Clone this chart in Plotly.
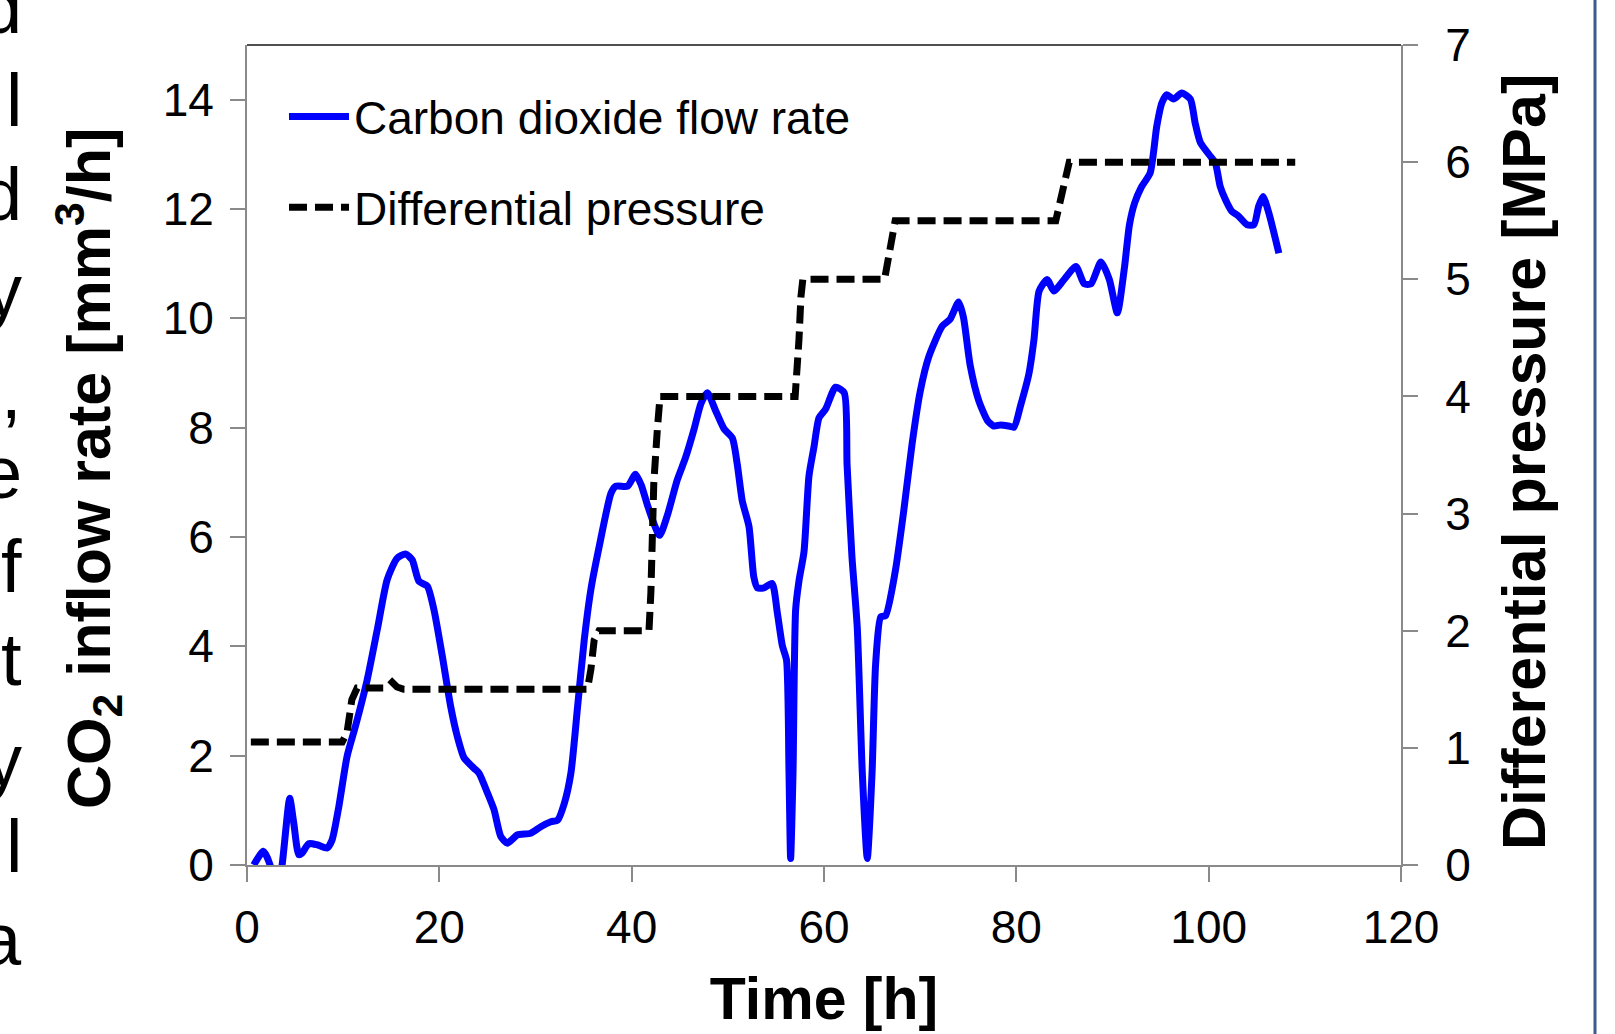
import plotly.graph_objects as go

# ---------------- data ----------------
flow_time = [0.7, 1.7, 2.4, 3.0, 3.65, 4.44, 4.86, 5.38, 5.73, 6.42, 7.29, 8.33, 8.85, 9.55,
             10.41, 11.28, 12.5, 13.54, 14.58, 15.6, 16.49, 17.18, 17.88, 18.75, 19.44, 20.31,
             21.18, 21.87, 22.57, 23.6, 24.13, 25.0, 25.69, 26.39, 27.08, 28.1, 29.5, 30.55,
             31.6, 32.3, 33.0, 33.68, 34.38, 35.07, 35.76, 36.63, 37.85, 38.36, 39.58, 40.4,
             41.0, 41.7, 42.9, 43.7, 44.75, 45.6, 46.5, 47.2, 47.87, 48.73, 49.6, 50.47, 50.99,
             51.5, 52.2, 52.7, 53.07, 53.76, 54.6, 55.15, 55.67, 56.1, 56.36, 56.53, 56.78,
             57.05, 57.4, 57.92, 58.44, 58.96, 59.48, 60.17, 61.2, 62.1, 62.4, 62.9, 63.46,
             63.98, 64.5, 65.0, 65.37, 65.9, 66.4, 67.4, 68.3, 69.15, 70.0, 70.9, 72.3, 73.1,
             74.0, 74.5, 75.2, 76.1, 77.0, 77.67, 78.36, 79.2, 79.76, 80.45, 81.3, 81.84, 82.37,
             83.2, 83.9, 84.97, 86.2, 87.06, 87.76, 88.8, 89.67, 90.5, 91.23, 91.76, 92.3, 93.0,
             93.92, 94.6, 95.13, 95.65, 96.35, 97.2, 98.1, 98.6, 99.15, 100.2, 100.7, 101.2,
             101.75, 102.4, 103.1, 104.0, 104.7, 105.2, 105.65, 106.25, 107.3]
flow_rate = [0.0, 0.25, 0.0, -0.6, 0.0, 1.22, 0.77, 0.19, 0.22, 0.39, 0.37, 0.31, 0.46, 1.07,
             1.99, 2.54, 3.39, 4.30, 5.22, 5.61, 5.69, 5.58, 5.19, 5.10, 4.67, 3.82,
             2.90, 2.35, 1.96, 1.77, 1.68, 1.32, 1.01, 0.52, 0.40, 0.55, 0.58, 0.70,
             0.79, 0.82, 1.13, 1.68, 2.90, 4.12, 5.04, 5.83, 6.80, 6.93, 6.93, 7.15,
             6.95, 6.55, 6.03, 6.39, 7.05, 7.45, 7.98, 8.44, 8.64, 8.31, 7.98, 7.81, 7.32,
             6.66, 6.19, 5.27, 5.07, 5.07, 5.15, 4.61, 4.01, 3.75, 1.70, 0.12, 1.70,
             4.67, 5.20, 5.73, 7.12, 7.65, 8.18, 8.34, 8.74, 8.64, 7.32, 5.66, 4.34,
             1.70, 0.12, 1.70, 3.68, 4.54, 4.56, 5.36, 6.49, 7.69, 8.66, 9.30, 9.86, 9.98,
             10.30, 10.02, 9.14, 8.49, 8.13, 8.03, 8.05, 8.03, 8.01, 8.41, 8.98, 9.62, 10.50,
             10.71, 10.50, 10.71, 10.95, 10.63, 10.63, 11.03, 10.71, 10.10, 10.91, 11.71, 12.11, 12.40,
             12.66, 13.51, 13.94, 14.09, 14.01, 14.12, 14.01, 13.57, 13.21, 12.96, 12.84, 12.41,
             12.17, 11.96, 11.87, 11.71, 11.71, 12.05, 12.23, 11.93, 11.19]

pressure_time = [0.4, 9.9, 10.4, 10.9, 11.45, 14.5, 15.1, 15.6, 16.3, 35.4, 35.76, 36.1, 36.6,
                 41.8, 42.0, 42.3, 42.67, 42.95, 57.0, 57.2, 57.4, 57.6, 57.8, 66.3, 66.9, 67.4,
                 84.1, 84.6, 85.0, 85.5, 109.0]
pressure = [1.05, 1.05, 1.13, 1.41, 1.51, 1.51, 1.56, 1.52, 1.50, 1.50, 1.67, 1.92, 2.0,
            2.0, 2.33, 3.26, 3.72, 4.0, 4.0, 4.19, 4.49, 4.85, 5.0, 5.0, 5.28, 5.5,
            5.5, 5.69, 5.84, 6.0, 6.0]

x_ticks = [0, 20, 40, 60, 80, 100, 120]
y_ticks = [0, 2, 4, 6, 8, 10, 12, 14]
y2_ticks = [0, 1, 2, 3, 4, 5, 6, 7]

x_title = "<b>Time [h]</b>"
y_title = "<b>CO<sub>2</sub> inflow rate [mm<sup>3</sup>/h]</b>"
y2_title = "<b>Differential pressure [MPa]</b>"

# cropped slide text at left edge: (text, centre y in px)
side_text = ["d", "l", "d", "y", ",", "e", "f", "t", "y", "l", "a"]
side_y = [8, 101, 194, 290, 392, 472, 566, 659, 760, 846, 939]

# ---------------- figure ----------------
W, H = 1615, 1034
L, R, T, B = 247, 214, 45, 169
PW, PH = W - L - R, H - T - B
FONT = "Liberation Sans, Arial, sans-serif"
AX = "#8a8a8a"


def px(xp):
    return (xp - L) / PW


def py(yp):
    return (H - B - yp) / PH


fig = go.Figure()
fig.add_trace(go.Scatter(
    x=flow_time, y=flow_rate, name="Carbon dioxide flow rate", mode="lines",
    line=dict(color="#0000ff", width=7, shape="spline", smoothing=0.6),
    legendgroup="a"))
fig.add_trace(go.Scatter(
    x=pressure_time, y=pressure, name="Differential pressure", mode="lines", yaxis="y2",
    line=dict(color="#000000", width=7, dash="18px,8px"),
    legendgroup="b"))

axis_common = dict(showline=True, linecolor=AX, linewidth=2, ticks="outside", ticklen=15,
                   tickwidth=2, tickcolor=AX, showgrid=False, zeroline=False,
                   tickfont=dict(family=FONT, size=46, color="#000"))

fig.update_layout(
    width=W, height=H, margin=dict(l=L, r=R, t=T, b=B, autoexpand=False),
    paper_bgcolor="white", plot_bgcolor="white",
    font=dict(family=FONT, color="#000"),
    xaxis=dict(range=[0, 120], tickvals=x_ticks, ticklabelstandoff=6,
               title=dict(text=x_title, font=dict(family=FONT, size=59), standoff=25),
               **axis_common),
    yaxis=dict(range=[0, 15], tickvals=y_ticks, ticklabelstandoff=7, **axis_common),
    yaxis2=dict(range=[0, 7], tickvals=y2_ticks, overlaying="y", side="right",
                ticklabelstandoff=18, **axis_common),
    legend=dict(x=px(284), y=py(80), xanchor="left",
                yanchor="top", bgcolor="rgba(0,0,0,0)", traceorder="grouped",
                tracegroupgap=28, itemwidth=60,
                font=dict(family=FONT, size=46, color="#000")),
    showlegend=True,
)

# axis titles (rotated)
fig.add_annotation(text=y_title, xref="paper", yref="paper", x=px(88), y=py(469),
                   xanchor="center", yanchor="middle", textangle=-90, showarrow=False,
                   font=dict(family=FONT, size=61, color="#000"))
fig.add_annotation(text=y2_title, xref="paper", yref="paper", x=px(1524), y=py(462),
                   xanchor="center", yanchor="middle", textangle=-90, showarrow=False,
                   font=dict(family=FONT, size=61, color="#000"))

# top border of the plot frame
fig.add_shape(type="line", xref="paper", yref="paper", x0=0, x1=1, y0=1, y1=1,
              line=dict(color="#505050", width=2))
# slide frame line at right edge
fig.add_shape(type="line", xref="paper", yref="paper",
              x0=px(1595), x1=px(1595), y0=py(H), y1=py(0),
              line=dict(color="#3b5a8e", width=3))

for txt, yc in zip(side_text, side_y):
    fig.add_annotation(text=txt, xref="paper", yref="paper",
                       x=px(24), y=py(yc),
                       xanchor="right", yanchor="middle", showarrow=False,
                       font=dict(family=FONT, size=74, color="#000"))

fig.write_html("out.html", config={"displayModeBar": False})
